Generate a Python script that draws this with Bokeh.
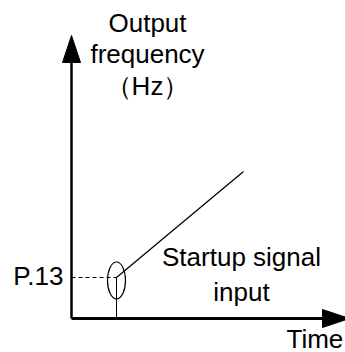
from bokeh.plotting import figure
from bokeh.models import Range1d
from bokeh.core.properties import value
from bokeh.embed import file_html
from bokeh.resources import INLINE

# ---- schematic data (arbitrary units, origin at axis corner) ----
time_axis_end = [0, 278]          # x axis extent (arrow tip)
freq_axis_end = [0, 283]          # y axis extent (arrow tip)
startup_time = 45                 # time of startup signal
p13_level = 41                    # P.13 starting frequency
ramp_time = [45, 172]             # output frequency ramp (time)
ramp_freq = [41, 147]             # output frequency ramp (frequency)
marker_center = [45, 38]          # ellipse marking startup point
marker_size = [18, 37]

y_label_lines = ["Output", "frequency", "（Hz）"]
y_label_x = [76, 76, 76]
y_label_y = [296, 265, 233]
note_lines = ["Startup signal", "input"]
note_x = [170, 170]
note_y = [62, 27]
level_label = "P.13"
level_label_pos = [-8, 43]
time_label = "Time"
time_label_pos = [215, -20]

arrow_len = 27
arrow_half = 9

FONT = value("Liberation Sans")

p = figure(width=345, height=352, output_backend="svg", toolbar_location=None,
           x_range=Range1d(-71, 274), y_range=Range1d(-34, 318), min_border=0)
p.axis.visible = False
p.grid.visible = False
p.outline_line_color = None
p.background_fill_color = "white"
p.border_fill_color = "white"

# axes lines
p.line(x=[0, 0], y=[0, freq_axis_end[1] - arrow_len + 2], line_color="black", line_width=2.5)
p.line(x=[0, time_axis_end[1] - arrow_len + 2], y=[0, 0], line_color="black", line_width=2.8)

# arrowheads
ty = freq_axis_end[1]
tx = time_axis_end[1]
p.patches(xs=[[0, -arrow_half, arrow_half], [tx, tx - arrow_len, tx - arrow_len]],
          ys=[[ty, ty - arrow_len, ty - arrow_len], [0, arrow_half, -arrow_half]],
          fill_color="black", line_color="black")

# dashed P.13 level line
p.line(x=[0, startup_time], y=[p13_level, p13_level], line_color="black",
       line_width=1, line_dash="4 3")
# startup signal vertical line
p.line(x=[startup_time, startup_time], y=[0, p13_level], line_color="black", line_width=1)
# ramp
p.line(x=ramp_time, y=ramp_freq, line_color="black", line_width=1.3)
# ellipse marker
p.ellipse(x=[marker_center[0]], y=[marker_center[1]], width=[marker_size[0]],
          height=[marker_size[1]], fill_color=None, line_color="black", line_width=1.2)

# texts
p.text(x=y_label_x, y=y_label_y, text=y_label_lines, text_font=FONT,
       text_font_size="26px", text_align="center", text_baseline="alphabetic",
       text_color="black")
p.text(x=note_x, y=note_y, text=note_lines, text_font=FONT,
       text_font_size="26px", text_align="center", text_baseline="alphabetic",
       text_color="black")
p.text(x=[level_label_pos[0]], y=[level_label_pos[1]], text=[level_label], text_font=FONT,
       text_font_size="26px", text_align="right", text_baseline="alphabetic",
       text_color="black")
p.text(x=[time_label_pos[0]], y=[time_label_pos[1]], text=[time_label], text_font=FONT,
       text_font_size="26px", text_align="left", text_baseline="alphabetic",
       text_color="black")

open("out.html", "w").write(file_html(p, INLINE))
